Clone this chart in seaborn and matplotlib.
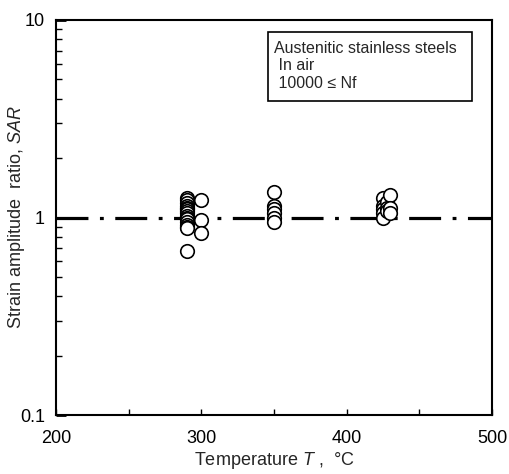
import matplotlib
matplotlib.use("Agg")
import matplotlib.pyplot as plt
import seaborn as sns
import pandas as pd
from matplotlib.patches import Rectangle
from matplotlib.ticker import FixedLocator, NullFormatter, LogLocator

temps_290 = [290, 290, 290, 290, 290, 290, 290, 290, 290, 290, 290, 290, 290, 290, 290, 290]
sar_290 = [1.26, 1.22, 1.18, 1.15, 1.12, 1.10, 1.08, 1.05, 1.02, 1.00, 0.98, 0.95, 0.92, 0.90, 0.88, 0.68]
temps_300 = [300, 300, 300]
sar_300 = [1.22, 0.97, 0.83]
temps_350 = [350, 350, 350, 350, 350, 350]
sar_350 = [1.35, 1.15, 1.10, 1.05, 1.00, 0.95]
temps_430 = [425, 425, 425, 425, 425, 428, 428, 428, 430, 430, 430]
sar_430 = [1.25, 1.15, 1.10, 1.05, 1.00, 1.20, 1.12, 1.08, 1.30, 1.12, 1.05]

x_ticks = [200, 300, 400, 500]
y_ticks = [0.1, 1, 10]
y_ticklabels = ["0.1", "1", "10"]
legend_lines = ["Austenitic stainless steels", " In air", " 10000 \u2264 Nf"]

df = pd.DataFrame({
    "T": temps_290 + temps_300 + temps_350 + temps_430,
    "SAR": sar_290 + sar_300 + sar_350 + sar_430,
})

sns.set_style("white")
plt.rcParams["font.family"] = ["Liberation Sans", "DejaVu Sans"]
plt.rcParams["mathtext.fontset"] = "custom"
plt.rcParams["mathtext.rm"] = "Liberation Sans"
plt.rcParams["mathtext.it"] = "Liberation Sans:italic"

fig = plt.figure(figsize=(5.09, 4.74), dpi=100)
ax = fig.add_axes([56/509, 59/474, 436/509, 395/474])

ax.set_yscale("log")
ax.set_xlim(200, 500)
ax.set_ylim(0.1, 10)

line, = ax.plot([200, 500], [1, 1], color="black", lw=2.3, solid_capstyle="butt",
                dash_capstyle="butt", zorder=2)
line.set_dashes([10, 3.6, 1.2, 3.6])

sns.scatterplot(data=df, x="T", y="SAR", ax=ax, marker="o", s=95,
                facecolor="white", edgecolor="black", linewidth=1.2, zorder=3)

ax.xaxis.set_major_locator(FixedLocator(x_ticks))
ax.xaxis.set_minor_locator(FixedLocator([250, 350, 450]))
ax.yaxis.set_major_locator(FixedLocator(y_ticks))
ax.set_yticklabels(y_ticklabels)
ax.yaxis.set_minor_locator(LogLocator(base=10, subs=range(2, 10)))
ax.yaxis.set_minor_formatter(NullFormatter())
ax.set_xticklabels([str(v) for v in x_ticks])

ax.tick_params(axis="both", which="both", direction="in", labelsize=13, colors="black")
ax.tick_params(axis="x", which="both", bottom=True, top=False, length=4, width=1, pad=11)
ax.tick_params(axis="y", which="major", left=True, right=False, length=7, width=2, pad=8)
ax.tick_params(axis="y", which="minor", left=True, right=False, length=4, width=1)

for s in ax.spines.values():
    s.set_color("black")
    s.set_linewidth(1.5)

ax.set_xlabel("Temperature $\\mathit{T}$ ,  \u00b0C", fontsize=13)
ax.xaxis.set_label_coords(0.5, -0.088)
ax.set_ylabel("Strain amplitude  ratio, $\\mathit{SAR}$", fontsize=13)
ax.yaxis.set_label_coords(-0.066, 0.5)

ax.add_patch(Rectangle((0.486, 0.795), 0.468, 0.175, transform=ax.transAxes,
                       facecolor="white", edgecolor="black", linewidth=1.2, zorder=5))
for txt, yy in zip(legend_lines, [0.929, 0.884, 0.838]):
    ax.text(0.5, yy, txt, transform=ax.transAxes, fontsize=11.5,
            va="center", ha="left", zorder=6)

fig.savefig("out.png", dpi=100)
